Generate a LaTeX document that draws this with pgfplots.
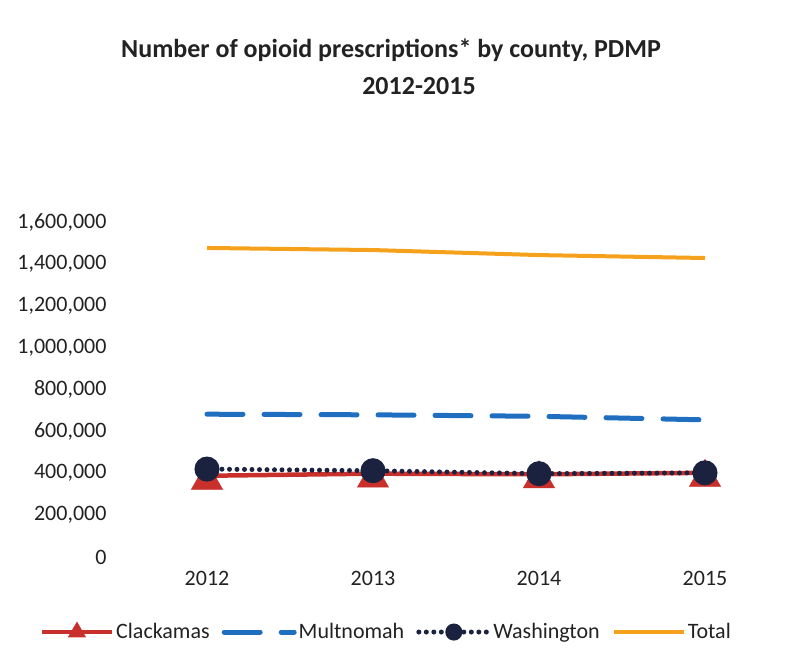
\documentclass[border=0pt]{standalone}
\usepackage{pgfplots}
\pgfplotsset{compat=1.18}
\usepackage{fontspec}
\setmainfont{Carlito}
\definecolor{clack}{HTML}{C9302C}
\definecolor{mult}{HTML}{1F6EC0}
\definecolor{wash}{HTML}{1B2240}
\definecolor{total}{HTML}{F5A11C}
\definecolor{txt}{HTML}{222222}
\begin{document}
\begin{tikzpicture}[x=1pt,y=1pt]
\path[use as bounding box] (0,0) rectangle (787,653);
\node[font=\fontsize{26}{37}\selectfont\bfseries, text=txt, align=center] at (391,586)
  {Number of opioid prescriptions* by county, PDMP\\\hspace*{56pt}2012-2015};
\begin{axis}[
  at={(124pt,96pt)}, anchor=south west,
  scale only axis, width=664pt, height=335pt,
  xmin=2011.5, xmax=2015.5, ymin=0, ymax=1600000,
  xtick={2012,2013,2014,2015},
  ytick={0,200000,...,1600000},
  scaled y ticks=false,
  axis line style={draw=none}, major tick length=0pt,
  tick label style={font=\fontsize{22}{26}\selectfont, text=txt},
  /pgf/number format/assume math mode=true,
  xticklabel style={/pgf/number format/1000 sep=},
  yticklabel style={/pgf/number format/fixed, /pgf/number format/1000 sep={,}},
  xticklabel shift=11pt, yticklabel shift=14pt,
  legend columns=4,
  legend style={at={(0.395,-0.224)}, anchor=center, draw=none, fill=none,
    font=\fontsize{22}{26}\selectfont, text=txt,
    /tikz/every even column/.append style={column sep=10pt},
    nodes={inner sep=2pt}},
  legend image code/.code={\draw[mark repeat=2,mark phase=2,#1] plot coordinates {(0pt,0pt) (35pt,0pt) (70pt,0pt)};},
  legend image post style={mark size=6pt, mark options={solid, yshift=0pt}},
]
\addplot[clack, line width=4.5pt, mark=triangle*, mark size=18pt,
  mark options={solid, fill=clack, draw=clack, line width=0.5pt, yshift=-4.5pt}]
  coordinates {(2012,388000) (2013,398000) (2014,395000) (2015,402000)};
\addlegendentry{Clackamas}
\addplot[mult, line width=5pt, line cap=round, dash pattern=on 36pt off 21pt]
  coordinates {(2012,682000) (2013,679000) (2014,672000) (2015,655000)};
\addlegendentry{Multnomah}
\addplot[wash, line width=5pt, line cap=round, dash pattern=on 0pt off 7.5pt,
  mark=*, mark size=10pt, mark options={solid, fill=wash, draw=wash}]
  coordinates {(2012,420000) (2013,412000) (2014,398000) (2015,402000)};
\addlegendentry{Washington}
\addplot[total, line width=4pt]
  coordinates {(2012,1476000) (2013,1466000) (2014,1442000) (2015,1428000)};
\addlegendentry{Total}
\end{axis}
\end{tikzpicture}
\end{document}
